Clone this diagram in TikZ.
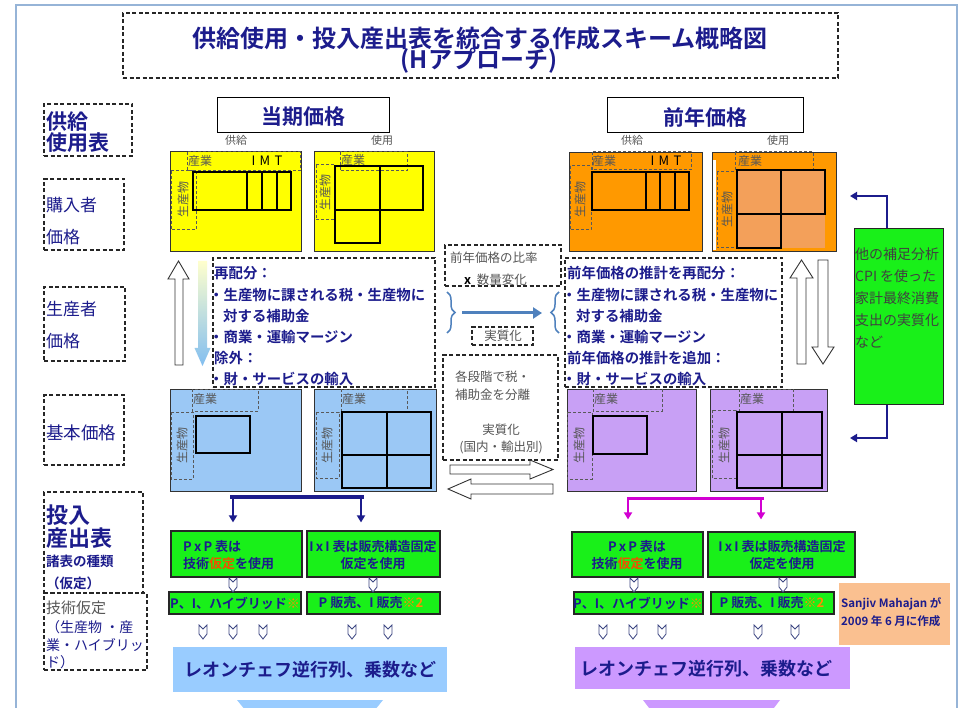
\documentclass[tikz,border=0pt]{standalone}
\usepackage{fontspec}
\setmainfont{Noto Sans CJK JP}[BoldFont={Noto Sans CJK JP Bold}]
\usetikzlibrary{arrows.meta,decorations.pathreplacing,fit}
\definecolor{navy}{RGB}{28,28,140}
\definecolor{framec}{RGB}{150,180,215}
\definecolor{ylw}{RGB}{255,255,0}
\definecolor{orng}{RGB}{255,153,0}
\definecolor{orngl}{RGB}{243,160,90}
\definecolor{lblue}{RGB}{155,200,245}
\definecolor{lpurp}{RGB}{200,160,245}
\definecolor{bblue}{RGB}{153,204,255}
\definecolor{bpurp}{RGB}{204,153,255}
\definecolor{grn}{RGB}{25,240,25}
\definecolor{peach}{RGB}{250,192,144}
\definecolor{steel}{RGB}{79,129,189}
\definecolor{mag}{RGB}{210,0,210}
\definecolor{redor}{RGB}{240,80,0}
\definecolor{ormark}{RGB}{255,140,0}
\definecolor{gtxt}{RGB}{85,85,85}
\definecolor{chev}{RGB}{60,70,130}
\definecolor{paleY}{RGB}{255,255,205}
\definecolor{gradB}{RGB}{130,190,240}
\newcommand\fsz[2]{\fontsize{#1}{#2}\selectfont}
\newcommand\chevr[2]{\draw[chevron] (#1-4,#2) -- (#1,#2+4) -- (#1+4,#2) -- (#1+4,#2+9) -- (#1,#2+14) -- (#1-4,#2+9) -- cycle;}
\tikzset{
 dbox/.style={draw=black!85, dash pattern=on 4pt off 2.5pt, line width=1.3pt},
 dthin/.style={draw=black!65, dash pattern=on 3pt off 2pt, line width=1pt},
 colbox/.style={draw=black!80, line width=0.8pt, inner sep=0pt},
 tbl/.style={draw=black, line width=2.2pt},
 tbt/.style={draw=black, line width=1.6pt},
 gbox/.style={fill=grn, draw=black!85, line width=1.2pt, inner sep=0pt},
 lt/.style={anchor=west, inner sep=0pt},
 ct/.style={inner sep=0pt},
 navytxt/.style={text=navy},
 graytxt/.style={text=gtxt},
 hollow/.style={draw=black!80, fill=white, line width=0.9pt},
 chevron/.style={draw=chev, fill=white, line width=0.8pt},
 lab/.style={ct, graytxt, font=\fsz{12}{12}},
 vlab/.style={ct, graytxt, font=\fsz{12}{12}, rotate=90},
 midtxt/.style={lt, navytxt, font=\fsz{14.4}{16}\bfseries},
 gtx/.style={ct, navytxt, font=\fsz{13}{14}\bfseries},
 navyarrow/.style={navy, line width=2pt, -{Triangle[length=7pt,width=8pt]}},
}
\begin{document}
\begin{tikzpicture}[x=1pt,y=-1pt]
\useasboundingbox (0,0) rectangle (966,708);
\clip (0,0) rectangle (966,708);
\fill[white] (0,0) rectangle (966,708);
\draw[framec, line width=1.6pt] (16,720) -- (16,5) -- (957,5) -- (957,720);

% ---------- title
\node[fit={(123,13) (838,78)}, inner sep=0pt, dbox] (titlebox) {};
\node[ct, navytxt, font=\fsz{24}{26}\bfseries] (title1) at (480,38) {供給使用・投入産出表を統合する作成スキーム概略図};
\node[ct, navytxt, font=\fsz{24}{26}\bfseries] (title2) at (479,61) {(Hアプローチ)};

% ---------- headers
\node[fit={(217,98) (389,133)}, inner sep=0pt, draw=black, line width=1pt] (curhead) {};
\node[ct, navytxt, font=\fsz{21}{24}\bfseries] (curtxt) at (303,117) {当期価格};
\node[fit={(607,98) (803,133)}, inner sep=0pt, draw=black, line width=1pt] (prevhead) {};
\node[ct, navytxt, font=\fsz{21}{24}\bfseries] (prevtxt) at (705,117) {前年価格};
\node[ct, graytxt, font=\fsz{11}{11}] (supA) at (236,140) {供給};
\node[ct, graytxt, font=\fsz{11}{11}] (useA) at (382,140) {使用};
\node[ct, graytxt, font=\fsz{11}{11}] (supB) at (632,140) {供給};
\node[ct, graytxt, font=\fsz{11}{11}] (useB) at (778,140) {使用};

% ---------- left labels
\node[fit={(44,104) (132,156)}, inner sep=0pt, dbox] (lb1) {};
\node[lt, navytxt, font=\fsz{21}{21}\bfseries, align=left] (lb1t) at (46,132) {供給\\使用表};
\node[fit={(44,179) (124,250)}, inner sep=0pt, dbox] (lb2) {};
\node[lt, navytxt, font=\fsz{17}{32}, align=left] (lb2t) at (46,221) {購入者\\価格};
\node[fit={(44,287) (125,361)}, inner sep=0pt, dbox] (lb3) {};
\node[lt, navytxt, font=\fsz{17}{32}, align=left] (lb3t) at (46,325) {生産者\\価格};
\node[fit={(44,395) (124,465)}, inner sep=0pt, dbox] (lb4) {};
\node[lt, navytxt, font=\fsz{17.5}{20}] (lb4t) at (46,433) {基本価格};
\node[fit={(44,492) (143,593)}, inner sep=0pt, dbox] (lb5) {};
\node[lt, navytxt, font=\fsz{22}{23}\bfseries, align=left] (lb5t) at (46,527) {投入\\産出表};
\node[lt, navytxt, font=\fsz{13.5}{15}\bfseries] (lb5a) at (46,561) {諸表の種類};
\node[lt, navytxt, font=\fsz{13.5}{15}\bfseries] (lb5b) at (46,583) {（仮定）};
\node[fit={(44,593) (147,670)}, inner sep=0pt, dbox] (lb6) {};
\node[lt, graytxt, font=\fsz{15}{16}] (lb6t) at (46,608) {技術仮定};
\node[lt, navytxt, font=\fsz{14}{17.5}, align=left] (lb6a) at (46,645) {（生産物 ・産\\業・ハイブリッ\\ド）};

% ---------- yellow (current, purchaser)
\node[fit={(170,151) (301,251)}, fill=ylw, colbox] (ySup) {};
\draw[dthin] (187,152) rectangle (300,171);
\draw[dthin] (171,171) rectangle (196,230);
\draw[tbl] (193,172) rectangle (291,210);
\draw[tbl] (247,172) -- (247,210) (262,172) -- (262,210) (277,172) -- (277,210);
\node[lab] (ySupI) at (200,161) {産業};
\node[ct, font=\fsz{13}{13}] (ySupM) at (267,161) {I\,\,M\,\,T};
\node[vlab] (ySupP) at (183,200) {生産物};

\node[fit={(314,151) (434,251)}, fill=ylw, colbox] (yUse) {};
\draw[dthin] (340,152) rectangle (407,171);
\draw[dthin] (316,165) rectangle (335,220);
\draw[tbt] (335,166) rectangle (423,210) (335,166) rectangle (380,243);
\node[lab] (yUseI) at (353,160) {産業};
\node[vlab] (yUseP) at (325,193) {生産物};

% ---------- orange (previous, purchaser)
\node[fit={(569,152) (702,251)}, fill=orng, colbox] (oSup) {};
\draw[dthin] (592,152) rectangle (691,170);
\draw[dthin] (570,166) rectangle (591,230);
\draw[tbl] (592,172) rectangle (689,210);
\draw[tbl] (646,172) -- (646,210) (660,172) -- (660,210) (675,172) -- (675,210);
\node[lab] (oSupI) at (604,161) {産業};
\node[ct, font=\fsz{13}{13}] (oSupM) at (666,161) {I\,\,M\,\,T};
\node[vlab] (oSupP) at (580,200) {生産物};

\node[fit={(712,152) (836,251)}, fill=orng, colbox] (oUse) {};
\fill[white] (712.5,160) rectangle (716,250.5);
\fill[orngl] (737,170) rectangle (825,248);
\draw[dthin] (735,152) rectangle (813,170);
\draw[dthin] (717,172) rectangle (737,248);
\draw[tbt] (737,170) rectangle (825,214) (737,170) rectangle (781,248);
\node[lab] (oUseI) at (750,161) {産業};
\node[vlab] (oUseP) at (727,210) {生産物};

% ---------- blue (current, basic)
\node[fit={(170,389) (301,491)}, fill=lblue, colbox] (bSup) {};
\draw[dthin] (192,389) rectangle (258,411);
\draw[dthin] (171,412) rectangle (193,479);
\draw[tbl] (196,416) rectangle (250,453);
\node[lab] (bSupI) at (205,399) {産業};
\node[vlab] (bSupP) at (182,445) {生産物};

\node[fit={(314,389) (436,491)}, fill=lblue, colbox] (bUse) {};
\draw[dthin] (341,389) rectangle (407,411);
\draw[dthin] (316,412) rectangle (339,478);
\draw[tbt] (342,412) rectangle (431,488) (387,412) -- (387,488) (342,455) -- (431,455);
\node[lab] (bUseI) at (354,399) {産業};
\node[vlab] (bUseP) at (327,445) {生産物};

% ---------- purple (previous, basic)
\node[fit={(567,389) (696,491)}, fill=lpurp, colbox] (pSup) {};
\draw[dthin] (593,389) rectangle (662,411);
\draw[dthin] (567,412) rectangle (592,479);
\draw[tbl] (593,416) rectangle (647,454);
\node[lab] (pSupI) at (606,399) {産業};
\node[vlab] (pSupP) at (579,445) {生産物};

\node[fit={(710,389) (827,491)}, fill=lpurp, colbox] (pUse) {};
\draw[dthin] (739,389) rectangle (793,411);
\draw[dthin] (712,410) rectangle (736,478);
\draw[tbt] (737,412) rectangle (822,488) (782,412) -- (782,488) (737,455) -- (822,455);
\node[lab] (pUseI) at (752,399) {産業};
\node[vlab] (pUseP) at (724,445) {生産物};

% ---------- left vertical arrows
\draw[hollow] (175,365) -- (175,279) -- (168,279) -- (178.5,261) -- (189,279) -- (183,279) -- (183,365) -- cycle;
\shade[top color=paleY, bottom color=gradB] (198,261) -- (207,261) -- (207,348) -- (210.5,348) -- (202.5,366) -- (194.5,348) -- (198,348) -- cycle;

% ---------- left text box
\node[fit={(213,258) (435,387)}, inner sep=0pt, dbox] (redistL) {};
\node[midtxt] (rl1) at (214,273) {再配分：};
\node[midtxt] (rl2) at (209,295) {・生産物に課される税・生産物に};
\node[midtxt] (rl3) at (223,316) {対する補助金};
\node[midtxt] (rl4) at (209,337) {・商業・運輸マージン};
\node[midtxt] (rl5) at (214,358) {除外：};
\node[midtxt] (rl6) at (209,379) {・財・サービスの輸入};

% ---------- right text box
\node[fit={(565,258) (782,387)}, inner sep=0pt, dbox] (redistR) {};
\node[midtxt] (rr1) at (567,273) {前年価格の推計を再配分：};
\node[midtxt] (rr2) at (562,295) {・生産物に課される税・生産物に};
\node[midtxt] (rr3) at (576,316) {対する補助金};
\node[midtxt] (rr4) at (562,337) {・商業・運輸マージン};
\node[midtxt] (rr5) at (567,358) {前年価格の推計を追加：};
\node[midtxt] (rr6) at (562,379) {・財・サービスの輸入};

% ---------- middle
\node[fit={(445,245) (561,286)}, inner sep=0pt, dbox] (ratiobox) {};
\node[lt, graytxt, font=\fsz{12.5}{14}] (ratio1) at (450,258) {前年価格の比率};
\node[lt, graytxt, font=\fsz{12.5}{14}] (ratio2) at (464,280) {\textcolor{black}{\textbf{x}}\ \ 数量変化};
\draw[steel, line width=1.5pt, decorate, decoration={brace, amplitude=8pt}] (447,292) -- (447,333);
\draw[steel, line width=1.5pt, decorate, decoration={brace, amplitude=8pt}] (559,333) -- (559,292);
\coordinate (stA) at (462,313);
\coordinate (stB) at (542,313);
\draw[steel, line width=3pt, -{Triangle[length=9pt,width=11pt]}] (stA) -- (stB);
\node[fit={(472,327) (533,345)}, inner sep=0pt, dbox] (realbox) {};
\node[ct, graytxt, font=\fsz{12.5}{14}] (realt) at (503,336) {実質化};
\node[fit={(443,355) (558,460)}, inner sep=0pt, dbox] (sepbox) {};
\node[lt, graytxt, font=\fsz{12.5}{14}] (sep1) at (455,377) {各段階で税・};
\node[lt, graytxt, font=\fsz{12.5}{14}] (sep2) at (455,395) {補助金を分離};
\node[ct, graytxt, font=\fsz{12.5}{14}] (sep3) at (501,430) {実質化};
\node[ct, graytxt, font=\fsz{12.5}{14}] (sep4) at (501,447) {(国内・輸出別)};
\draw[hollow] (450,465) -- (530,465) -- (530,460) -- (553,469.5) -- (530,479) -- (530,474) -- (450,474) -- cycle;
\draw[hollow] (553,484) -- (471,484) -- (471,479) -- (448,489) -- (471,499) -- (471,494) -- (553,494) -- cycle;

% ---------- right vertical arrows
\draw[hollow] (797,364) -- (797,278) -- (790,278) -- (801.5,260) -- (813,278) -- (806,278) -- (806,364) -- cycle;
\draw[hollow] (818,260) -- (828,260) -- (828,347) -- (834,347) -- (823,364) -- (812,347) -- (818,347) -- cycle;

% ---------- side green box
\node[fit={(854,229) (943,404)}, fill=grn, draw=black!85, line width=1pt, inner sep=0pt] (sidebox) {};
\node[lt, text=black!75, font=\fsz{14}{21.9}, align=left] (sidet) at (855,298) {他の補足分析\\CPI を使った\\家計最終消費\\支出の実質化\\など};
\coordinate (sideTopTip) at (850,196);
\coordinate (sideBotTip) at (850,438);
\draw[navyarrow] ([xshift=-11.5pt]sidebox.north) |- (sideTopTip);
\draw[navyarrow] ([xshift=-11.5pt]sidebox.south) |- (sideBotTip);

% ---------- bottom left (current)
\node[fit={(171,531) (302,577)}, gbox] (gL1) {};
\node[lt, navytxt, font=\fsz{13}{14}\bfseries] (gL1a) at (183,547) {P\,x\,P\ 表は};
\node[lt, navytxt, font=\fsz{13}{14}\bfseries] (gL1b) at (183,564) {技術\textcolor{redor}{仮定}を使用};
\node[fit={(307,531) (440,577)}, gbox] (gL2) {};
\node[gtx] (gL2a) at (373,547) {I\,x\,I\ 表は販売構造固定};
\node[gtx] (gL2b) at (373,564) {仮定を使用};
\node[fit={(169,592) (301,614)}, gbox] (gL3) {};
\node[gtx] (gL3a) at (235,603) {P、I、ハイブリッド\textcolor{ormark}{※}};
\node[fit={(307,592) (440,614)}, gbox] (gL4) {};
\node[gtx] (gL4a) at (371,603) {P 販売、I 販売\textcolor{ormark}{※2}};

\coordinate (busL) at (230,497);
\coordinate (busR) at (364,497);
\draw[navy, line width=4pt] (busL) -- (busR);
\coordinate (dL1) at (233,497);
\coordinate (dL2) at (361,497);
\draw[navyarrow, shorten >=8pt] (dL1) -- (dL1 |- gL1.north);
\draw[navyarrow, shorten >=8pt] (dL2) -- (dL2 |- gL2.north);

\chevr{233}{578}
\chevr{373}{578}
\chevr{203}{625}
\chevr{233}{625}
\chevr{263}{625}
\chevr{352}{625}
\chevr{388}{625}

\node[fit={(173,647) (447,692)}, fill=bblue, inner sep=0pt] (leoL) {};
\node[ct, navytxt, font=\fsz{18}{20}\bfseries] (leoLt) at (310,670) {レオンチェフ逆行列、乗数など};
\fill[bblue] (237,700) -- (383,700) -- (310,790) -- cycle;

% ---------- bottom right (previous)
\coordinate (busPL) at (627,498);
\coordinate (busPR) at (764,498);
\draw[mag, line width=3pt] (busPL) -- (busPR);
\node[fit={(572,532) (703,577)}, gbox] (gR1) {};
\node[gtx] (gR1a) at (637,547) {P\,x\,P\ 表は};
\node[gtx] (gR1b) at (637,564) {技術\textcolor{redor}{仮定}を使用};
\node[fit={(708,532) (855,577)}, gbox] (gR2) {};
\node[gtx] (gR2a) at (782,547) {I\,x\,I\ 表は販売構造固定};
\node[gtx] (gR2b) at (782,564) {仮定を使用};
\node[fit={(574,592) (703,614)}, gbox] (gR3) {};
\node[gtx] (gR3a) at (638,603) {P、I、ハイブリッド\textcolor{ormark}{※}};
\node[fit={(711,592) (834,614)}, gbox] (gR4) {};
\node[gtx] (gR4a) at (772,603) {P 販売、I 販売\textcolor{ormark}{※2}};
\coordinate (dR1) at (628,498);
\coordinate (dR2) at (761,498);
\draw[mag, line width=2pt, -{Triangle[length=7pt,width=8pt]}, shorten >=12pt] (dR1) -- (dR1 |- gR1.north);
\draw[mag, line width=2pt, -{Triangle[length=7pt,width=8pt]}, shorten >=12pt] (dR2) -- (dR2 |- gR2.north);

\chevr{634}{578}
\chevr{783}{578}
\chevr{603}{625}
\chevr{633}{625}
\chevr{662}{625}
\chevr{758}{625}
\chevr{795}{625}

\node[fit={(839,583) (950,645)}, fill=peach, inner sep=0pt] (sanjiv) {};
\node[lt, navytxt, font=\fsz{11.5}{18}\bfseries, align=left] (sanjivt) at (841,612) {Sanjiv Mahajan が\\2009 年 6 月に作成};

\node[fit={(575,647) (850,689)}, fill=bpurp, inner sep=0pt] (leoR) {};
\node[ct, navytxt, font=\fsz{18}{20}\bfseries] (leoRt) at (706,669) {レオンチェフ逆行列、乗数など};
\fill[bpurp] (643,700) -- (780,700) -- (711.5,790) -- cycle;
\end{tikzpicture}
\end{document}
